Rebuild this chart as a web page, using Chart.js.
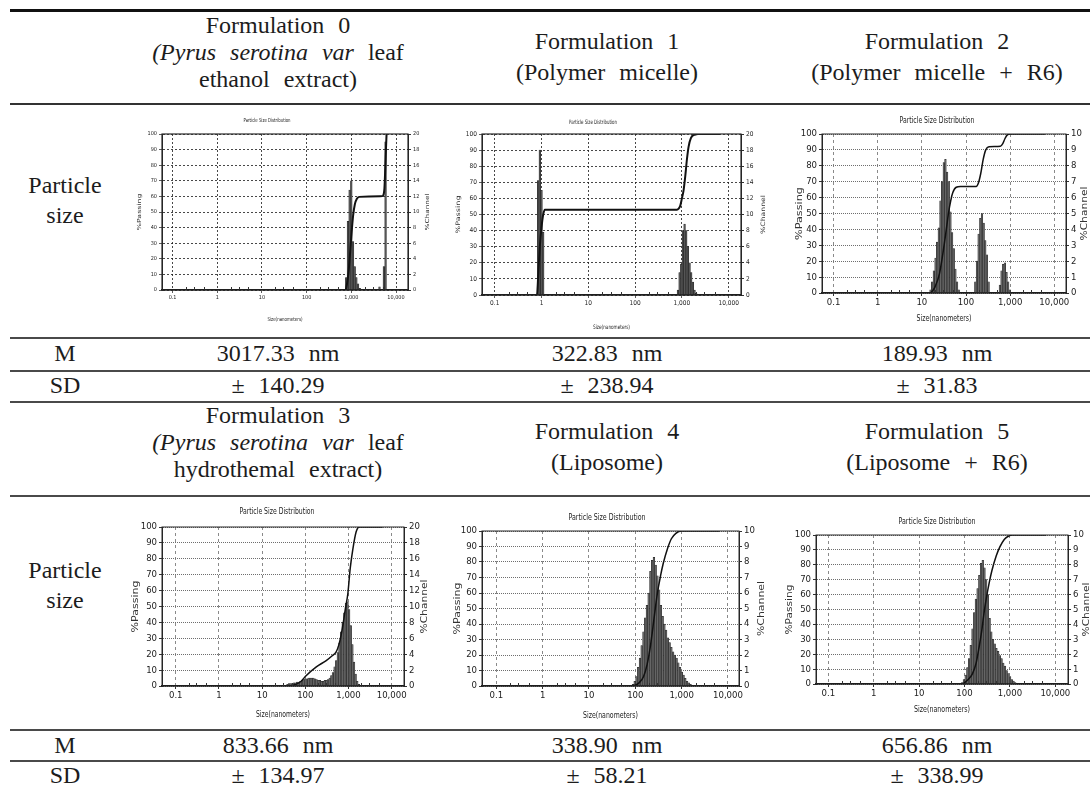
<!DOCTYPE html>
<html>
<head>
<meta charset="utf-8">
<title>Particle size distribution of formulations</title>
<script src="https://cdn.jsdelivr.net/npm/chart.js@4.4.1/dist/chart.umd.min.js"></script>
<style>
  html, body { margin: 0; padding: 0; background: #fff; }
  body { position: relative; width: 1090px; height: 789px; overflow: hidden;
         font-family: "Liberation Serif", "DejaVu Serif", serif; color: #1c1c1c; }
  .rule { position: absolute; left: 10px; width: 1090px; height: 2px; background: #4a4a4a; }
  .cell { position: absolute; width: 340px; text-align: center; font-size: 24px;
          line-height: 27px; word-spacing: 8px; white-space: nowrap; }
  .two { line-height: 31px; }
  .one { line-height: 31px; }
  .lab { left: 5px; width: 120px; }
  canvas { position: absolute; }
</style>
</head>
<body>

<div class="rule" style="top:9px;height:3px;background:#111"></div>
<div class="rule" style="top:103px;height:1.5px;background:#333"></div>
<div class="rule" style="top:337px"></div>
<div class="rule" style="top:370px"></div>
<div class="rule" style="top:401px"></div>
<div class="rule" style="top:495px"></div>
<div class="rule" style="top:729px"></div>
<div class="rule" style="top:760px"></div>

<!-- header row 1 -->
<div class="cell" style="left:108px;top:12px">Formulation 0<br><i>(Pyrus serotina var</i> leaf<br>ethanol extract)</div>
<div class="cell two" style="left:437px;top:26px">Formulation 1<br>(Polymer micelle)</div>
<div class="cell two" style="left:767px;top:26px">Formulation 2<br>(Polymer micelle + R6)</div>

<div class="cell lab" style="top:170px;line-height:30px">Particle<br>size</div>

<div class="cell one lab" style="top:338px">M</div>
<div class="cell one" style="left:108px;top:338px">3017.33 nm</div>
<div class="cell one" style="left:437px;top:338px">322.83 nm</div>
<div class="cell one" style="left:767px;top:338px">189.93 nm</div>

<div class="cell one lab" style="top:370px">SD</div>
<div class="cell one" style="left:108px;top:370px">± 140.29</div>
<div class="cell one" style="left:437px;top:370px">± 238.94</div>
<div class="cell one" style="left:767px;top:370px">± 31.83</div>

<!-- header row 2 -->
<div class="cell" style="left:108px;top:402px">Formulation 3<br><i>(Pyrus serotina var</i> leaf<br>hydrothemal extract)</div>
<div class="cell two" style="left:437px;top:416px">Formulation 4<br>(Liposome)</div>
<div class="cell two" style="left:767px;top:416px">Formulation 5<br>(Liposome + R6)</div>

<div class="cell lab" style="top:555px;line-height:30px">Particle<br>size</div>

<div class="cell one lab" style="top:730px">M</div>
<div class="cell one" style="left:108px;top:730px">833.66 nm</div>
<div class="cell one" style="left:437px;top:730px">338.90 nm</div>
<div class="cell one" style="left:767px;top:730px">656.86 nm</div>

<div class="cell one lab" style="top:760px">SD</div>
<div class="cell one" style="left:108px;top:760px">± 134.97</div>
<div class="cell one" style="left:437px;top:760px">± 58.21</div>
<div class="cell one" style="left:767px;top:760px">± 338.99</div>

<script>
// shared axis labels
const xTickValues = [0.1, 1, 10, 100, 1000, 10000];
const xTickLabels = ['0.1', '1', '10', '100', '1,000', '10,000'];
const xMinorTicks = [0.2, 0.3, 0.5, 2, 3, 5, 20, 30, 50, 200, 300, 500, 2000, 3000, 5000];

// Formulation 0 - ethanol extract
const f0Sizes   = [770, 840, 916, 1000, 1090, 1189, 1297, 1414, 1542, 4270, 5350, 5835];
const f0Channel = [1.6, 8.8, 12.8, 14.0, 6.2, 3.0, 1.6, 0.8, 0.2, 0.4, 3.0, 19.0];
const f0CurveSizes = [0.058, 740, 800, 870, 917, 980, 1036, 1100, 1200, 1330, 1500, 2500, 5000, 5300, 5500, 5750, 5950, 6150];
const f0CurvePass  = [0, 0, 4, 12, 20, 31, 40, 48, 55, 58.5, 59.7, 60, 60.2, 61.5, 65, 78, 90, 100];

// Formulation 1 - polymer micelle
const f1Sizes   = [0.847, 0.92, 1.0, 1.087, 822, 892, 968, 1050, 1139, 1236, 1342, 1456, 1580, 1714, 1860, 2018];
const f1Channel = [14.2, 18.0, 13.0, 7.8, 0.6, 2.8, 3.8, 8.0, 8.8, 8.0, 6.0, 4.0, 2.8, 1.6, 0.6, 0.2];
const f1CurveSizes = [0.054, 0.8, 0.85, 0.92, 1.0, 1.087, 1.18, 783, 850, 923, 1000, 1085, 1177, 1277, 1387, 1553, 1923, 2200, 6550];
const f1CurvePass  = [0, 0, 12, 30, 42, 50, 53, 53, 53.6, 55.5, 60, 65, 73.6, 84, 92, 97.5, 99.7, 100, 100];

// Formulation 2 - polymer micelle + R6
const f2Sizes   = [15.7, 17.1, 18.7, 20.4, 22.2, 24.2, 26.4, 28.8, 31.4, 34.2, 37.3, 40.7, 44.4, 48.4, 52.8, 57.5, 62.7, 68.4,
                   162.5, 177, 193, 211, 230, 251, 273, 298, 325,
                   585, 638, 696, 759, 827, 902, 984];
const f2Channel = [0.2, 0.7, 1.4, 2.2, 3.2, 4.1, 5.8, 7.0, 8.2, 8.4, 7.6, 7.0, 5.1, 3.8, 2.8, 1.5, 0.7, 0.2,
                   0.7, 2.0, 3.7, 4.7, 5.0, 4.4, 3.3, 2.4, 0.7,
                   0.5, 1.4, 1.8, 1.9, 1.3, 0.7, 0.2];
const f2CurveSizes = [0.95, 15, 17, 20, 25, 30, 35, 40, 45, 50, 60, 75, 170, 190, 215, 245, 280, 330, 600, 680, 760, 850, 1000, 6200];
const f2CurvePass  = [0, 0, 1, 4, 12, 25, 38, 50, 58, 63, 66.5, 67, 67, 69, 75, 84, 90, 92, 92.3, 94, 97, 99.3, 100, 100];

// Formulation 3 - hydrothermal extract
const f3Sizes   = [38.6, 42.1, 45.9, 50, 54.5, 59.5, 64.9, 70.7, 77.1, 84.1, 91.7, 100, 109, 119, 130, 141.5, 154, 168, 183, 200,
                   218, 238, 259, 283, 308, 336, 367, 400, 436, 476, 519, 566, 617, 673, 733, 800, 872, 951, 1037, 1131,
                   1233, 1345, 1466, 1599, 1744];
const f3Channel = [0.2, 0.3, 0.3, 0.3, 0.4, 0.4, 0.5, 0.5, 0.6, 0.7, 0.8, 0.9, 0.9, 1.0, 1.0, 1.0, 1.0, 0.9, 0.8, 0.7,
                   0.7, 0.6, 0.6, 0.7, 0.7, 0.8, 1.0, 1.3, 1.7, 2.4, 3.2, 4.2, 5.4, 6.8, 8.0, 9.2, 10.4, 10.6, 9.6, 7.6,
                   5.2, 3.0, 1.5, 0.6, 0.2];
const f3CurveSizes = [0.95, 40, 60, 80, 100, 180, 305, 420, 519, 600, 675, 760, 852, 966, 1096, 1260, 1505, 1790, 6200];
const f3CurvePass  = [0, 0, 1, 3, 6, 12, 16, 19, 21.5, 26, 32, 40, 49, 58, 74, 86, 97, 100, 100];

// Formulation 4 - liposome
const f4Sizes   = [89, 97, 106, 115.5, 126, 137, 150, 163.5, 178, 194, 212, 231, 252, 275, 300, 327, 357, 389, 424, 462,
                   504, 550, 600, 654, 713, 778, 848, 925, 1008, 1100, 1199, 1308, 1426, 1555];
const f4Channel = [0.1, 0.3, 0.6, 1.2, 1.8, 2.6, 3.5, 4.4, 5.2, 6.0, 7.4, 8.1, 8.3, 7.8, 7.1, 6.2, 5.2, 4.5, 4.0, 3.6,
                   3.1, 2.8, 2.5, 2.2, 2.0, 1.8, 1.5, 1.2, 0.9, 0.7, 0.5, 0.3, 0.2, 0.1];
const f4CurveSizes = [0.95, 88, 120, 150, 180, 210, 240, 270, 300, 350, 400, 500, 600, 750, 1000, 6600];
const f4CurvePass  = [0, 0, 2, 6, 14, 25, 38, 50, 60, 71, 79, 89, 95, 98.5, 100, 100];

// Formulation 5 - liposome + R6
const f5Sizes   = [89, 97, 106, 115.5, 126, 137, 150, 163.5, 178, 194, 212, 231, 252, 275, 300, 327, 357, 389, 424, 462,
                   504, 550, 600, 654, 713, 778, 848, 925, 1008, 1100, 1199, 1308];
const f5Channel = [0.1, 0.3, 0.6, 1.1, 1.7, 2.6, 3.7, 4.8, 5.7, 6.4, 7.3, 8.1, 8.3, 7.8, 7.0, 6.0, 4.4, 3.5, 3.0, 2.7,
                   2.4, 2.2, 1.9, 1.7, 1.4, 1.2, 0.9, 0.7, 0.5, 0.3, 0.2, 0.1];
const f5CurveSizes = [0.95, 88, 120, 150, 180, 210, 240, 270, 300, 350, 400, 500, 600, 750, 900, 1150, 6300];
const f5CurvePass  = [0, 0, 3, 7, 14, 25, 36, 48, 57, 68, 76, 86, 92, 97, 99, 100, 100];

const NARROW = '"Liberation Sans Narrow", "DejaVu Sans Condensed", "Liberation Sans", sans-serif';
const WIDE = '"DejaVu Sans", "Liberation Sans", sans-serif';
const PAD = { l: 34, r: 30, t: 26, b: 38 };

// draw text centred at x,y, squeezed/stretched to a given width
function fitText(ctx, text, x, y, font, width, angle) {
    ctx.save();
    ctx.font = font;
    ctx.textAlign = 'center';
    ctx.textBaseline = 'middle';
    ctx.translate(x, y);
    ctx.rotate(angle || 0);
    const w = ctx.measureText(text).width;
    ctx.scale(width / w, 1);
    ctx.fillText(text, 0, 0);
    ctx.restore();
}

const chartDecor = {
    id: 'chartDecor',
    afterDraw(chart, args, o) {
        const { ctx, chartArea: a, scales } = chart;
        ctx.save();
        ctx.strokeStyle = '#333';
        ctx.lineWidth = 1;
        xMinorTicks.forEach(v => {
            const px = Math.round(scales.x.getPixelForValue(v)) + 0.5;
            ctx.beginPath();
            ctx.moveTo(px, a.bottom);
            ctx.lineTo(px, a.bottom - 3);
            ctx.stroke();
        });
        ctx.strokeStyle = '#2a2a2a';
        ctx.lineWidth = o.frame;
        ctx.strokeRect(a.left, a.top, a.right - a.left, a.bottom - a.top);
        ctx.fillStyle = '#222';
        const midY = (a.top + a.bottom) / 2;
        fitText(ctx, 'Particle Size Distribution', o.titleX, o.titleY, o.titleSize + 'px ' + NARROW, o.titleW);
        fitText(ctx, 'Size(nanometers)', (a.left + a.right) / 2, o.xTitleY, o.titleSize + 'px ' + NARROW, o.xTitleW);
        ctx.fillStyle = '#333';
        fitText(ctx, '%Passing', o.yTitleX, midY, o.yTitleSize + 'px ' + WIDE, o.yTitleW, -Math.PI / 2);
        fitText(ctx, '%Channel', o.y2TitleX, midY, o.yTitleSize + 'px ' + WIDE, o.y2TitleW, -Math.PI / 2);
        ctx.restore();
    }
};

function drawPsd(box) {
    const [pl, pt, pr, pb] = box.plot;
    const ox = pl - PAD.l, oy = pt - PAD.t;
    const canvas = document.createElement('canvas');
    canvas.width = pr - pl + PAD.l + PAD.r;
    canvas.height = pb - pt + PAD.t + PAD.b;
    canvas.style.left = ox + 'px';
    canvas.style.top = oy + 'px';
    document.body.appendChild(canvas);

    const tickFont = { family: NARROW, size: box.tickSize };
    const small = box.small;
    const hColor = small ? '#1a1a1a' : '#6e6e6e';
    const vColor = small ? '#1a1a1a' : '#8a8a8a';

    return new Chart(canvas, {
        type: 'bar',
        data: {
            datasets: [
                {
                    type: 'line',
                    data: box.curveSizes.map((s, i) => ({ x: s, y: box.curvePass[i] })),
                    yAxisID: 'y',
                    borderColor: '#111',
                    borderWidth: box.lineW,
                    pointRadius: 0,
                    cubicInterpolationMode: 'monotone',
                    order: 0
                },
                {
                    type: 'bar',
                    data: box.sizes.map((s, i) => ({ x: s, y: box.channel[i] })),
                    yAxisID: 'y2',
                    backgroundColor: small ? '#555' : '#666',
                    borderColor: '#1e1e1e',
                    borderWidth: 0.5,
                    barPercentage: 1,
                    categoryPercentage: 1,
                    order: 1
                }
            ]
        },
        options: {
            responsive: false,
            animation: false,
            devicePixelRatio: 1,
            layout: { padding: { top: PAD.t, left: 0, right: 0, bottom: 0 } },
            plugins: {
                legend: { display: false },
                tooltip: { enabled: false },
                chartDecor: {
                    frame: small ? 1.2 : 1,
                    titleX: box.titleX - ox, titleY: box.titleY - oy,
                    xTitleY: box.xTitleY - oy,
                    yTitleX: box.yTitleX - ox, y2TitleX: box.y2TitleX - ox,
                    titleSize: box.titleSize, yTitleSize: box.yTitleSize,
                    titleW: box.widths[0], xTitleW: box.widths[1], yTitleW: box.widths[2], y2TitleW: box.widths[3]
                }
            },
            scales: {
                x: {
                    type: 'logarithmic',
                    min: box.xRange[0],
                    max: box.xRange[1],
                    offset: false,
                    afterBuildTicks: s => { s.ticks = xTickValues.map(v => ({ value: v })); },
                    afterFit: s => { s.height = PAD.b; },
                    ticks: {
                        autoSkip: false, maxRotation: 0, minRotation: 0,
                        font: tickFont, color: '#222', padding: 1,
                        callback: v => { const k = xTickValues.indexOf(v); return k < 0 ? '' : xTickLabels[k]; }
                    },
                    grid: { offset: false, color: vColor, lineWidth: small ? 0.8 : 1, tickColor: '#333', tickLength: 3 },
                    border: { color: '#111', width: 1.5, dash: small ? [2, 2] : [3, 3] }
                },
                y: {
                    position: 'left',
                    min: 0, max: 100,
                    afterFit: s => { s.width = PAD.l; },
                    ticks: { stepSize: 10, font: tickFont, color: '#222', padding: 2 },
                    grid: { color: hColor, lineWidth: small ? 0.8 : 1, tickColor: '#333', tickLength: 3 },
                    border: { color: '#222', dash: small ? [2, 2] : [1, 1] }
                },
                y2: {
                    type: 'linear',
                    position: 'right',
                    min: 0, max: box.chMax,
                    afterFit: s => { s.width = PAD.r; },
                    ticks: { stepSize: box.chStep, font: tickFont, color: '#222', padding: 2 },
                    grid: { drawOnChartArea: false, color: '#333', tickLength: 3 },
                    border: { color: '#222' }
                }
            }
        },
        plugins: [chartDecor]
    });
}

const smallA = { small: true, tickSize: 5.5, titleSize: 5.5, yTitleSize: 5.5, lineW: 2 };
const smallB = { small: true, tickSize: 6.5, titleSize: 6, yTitleSize: 6, lineW: 2 };
const big = { small: false, tickSize: 9.5, titleSize: 9.5, yTitleSize: 8.5, lineW: 1.5 };

drawPsd({ ...smallA, plot: [162, 134, 408, 290], xRange: [0.058, 18550], chMax: 20, chStep: 2,
    sizes: f0Sizes, channel: f0Channel, curveSizes: f0CurveSizes, curvePass: f0CurvePass,
    titleX: 267, titleY: 121, xTitleY: 320, yTitleX: 140, y2TitleX: 428, widths: [47, 35, 37, 37] });

drawPsd({ ...smallB, plot: [482, 134, 741, 295], xRange: [0.0535, 18300], chMax: 20, chStep: 2,
    sizes: f1Sizes, channel: f1Channel, curveSizes: f1CurveSizes, curvePass: f1CurvePass,
    titleX: 593, titleY: 122, xTitleY: 327, yTitleX: 458, y2TitleX: 763, widths: [48, 37, 38, 39] });

drawPsd({ ...big, plot: [822, 134, 1066, 293], xRange: [0.0547, 18400], chMax: 10, chStep: 1,
    sizes: f2Sizes, channel: f2Channel, curveSizes: f2CurveSizes, curvePass: f2CurvePass,
    titleX: 937, titleY: 121, xTitleY: 319, yTitleX: 800, y2TitleX: 1085, widths: [75, 55, 53, 54] });

drawPsd({ ...big, plot: [162, 527, 404, 686], xRange: [0.048, 19300], chMax: 20, chStep: 2,
    sizes: f3Sizes, channel: f3Channel, curveSizes: f3CurveSizes, curvePass: f3CurvePass,
    titleX: 277, titleY: 512, xTitleY: 715, yTitleX: 136, y2TitleX: 425, widths: [75, 54, 52, 54] });

drawPsd({ ...big, plot: [482, 531, 739, 686], xRange: [0.049, 17300], chMax: 10, chStep: 1,
    sizes: f4Sizes, channel: f4Channel, curveSizes: f4CurveSizes, curvePass: f4CurvePass,
    titleX: 607, titleY: 518, xTitleY: 716, yTitleX: 458, y2TitleX: 762, widths: [77, 55, 52, 55] });

drawPsd({ ...big, plot: [816, 535, 1068, 684], xRange: [0.0536, 19000], chMax: 10, chStep: 1,
    sizes: f5Sizes, channel: f5Channel, curveSizes: f5CurveSizes, curvePass: f5CurvePass,
    titleX: 937, titleY: 522, xTitleY: 710, yTitleX: 790, y2TitleX: 1087, widths: [77, 56, 50, 54] });
</script>
</body>
</html>
